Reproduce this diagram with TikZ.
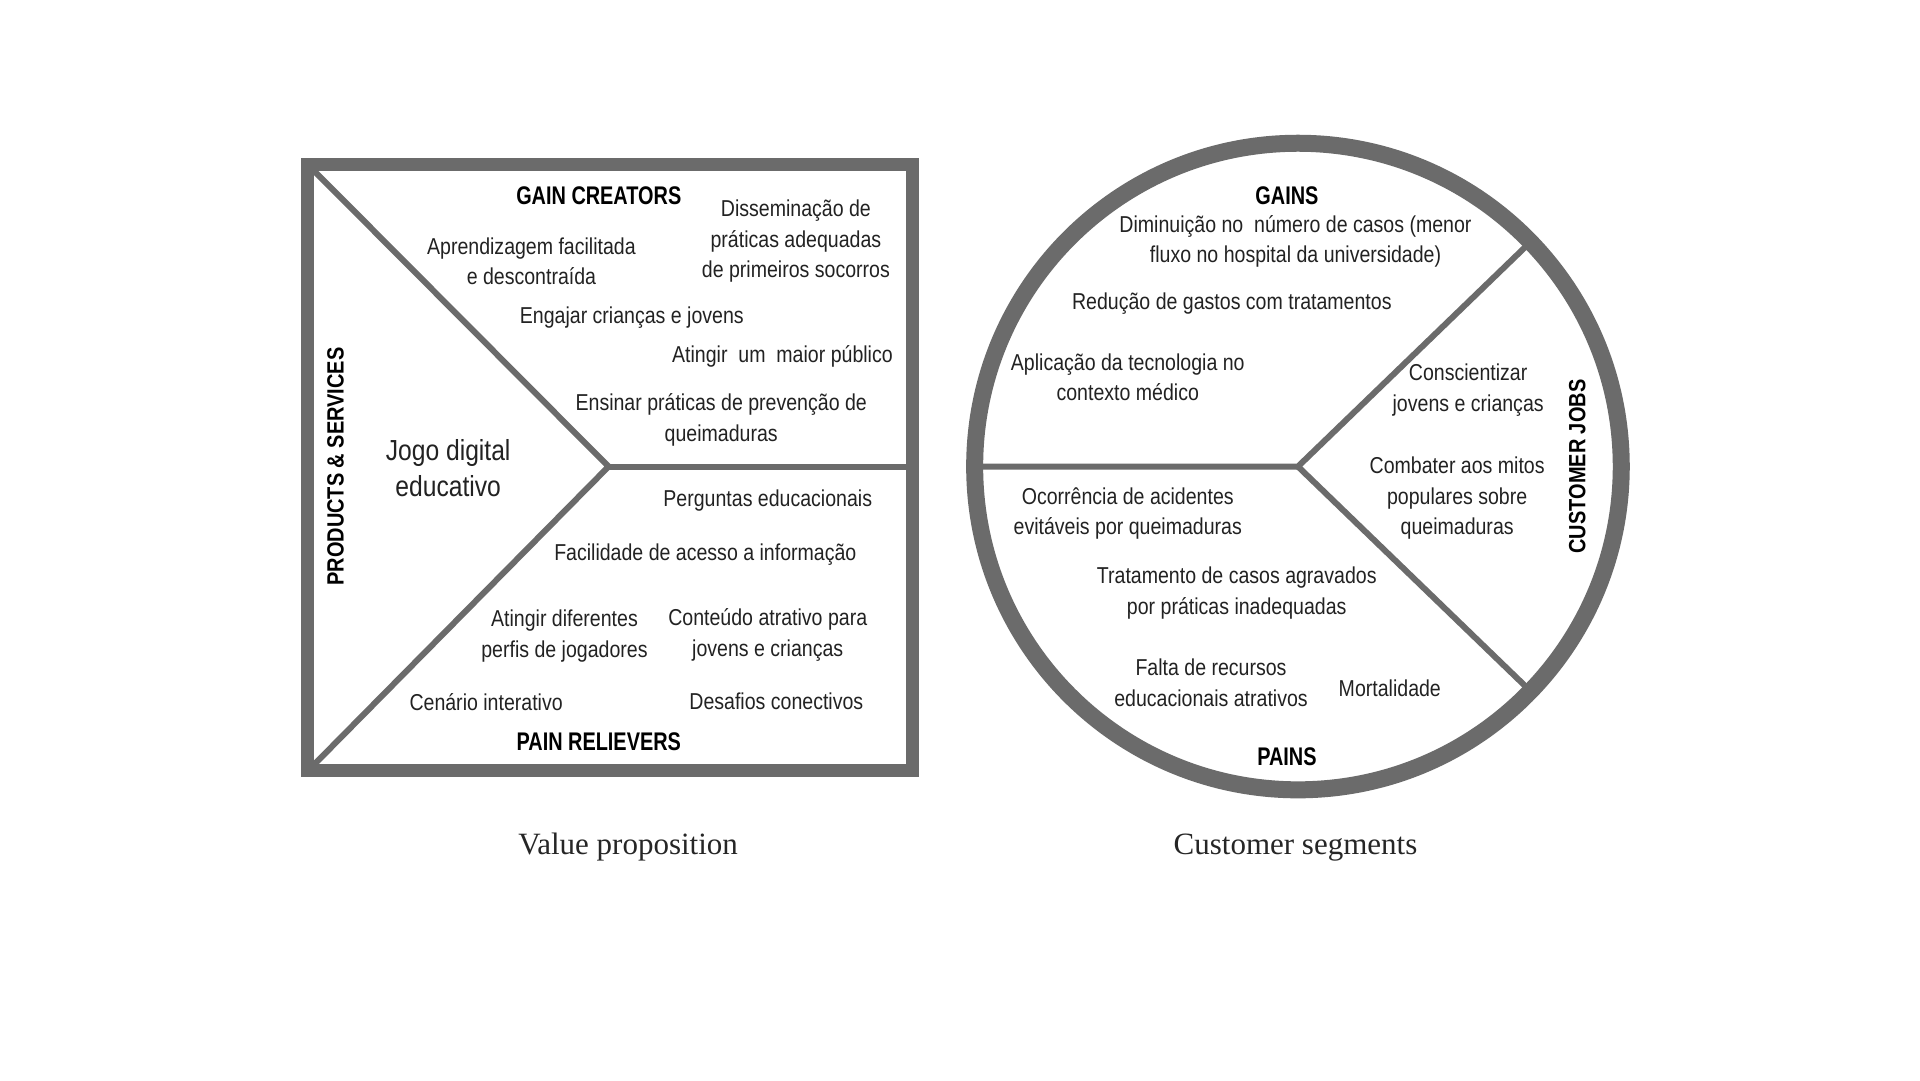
\documentclass[tikz,border=0pt]{standalone}
\usepackage{fontspec}
\setmainfont{Liberation Sans}[FakeStretch=0.85]
\newfontfamily\hdrfont{Liberation Sans}[FakeStretch=0.78]
\newfontfamily\capfont{Liberation Serif}
\definecolor{linegray}{HTML}{6B6B6B}
\definecolor{txtgray}{HTML}{222222}
\begin{document}
\begin{tikzpicture}[x=1.2245pt,y=-1.2245pt,
  txt/.style={font=\fontsize{23}{30.6}\selectfont, text=txtgray, align=center, inner sep=0pt},
  big/.style={font=\fontsize{29}{36}\selectfont, text=txtgray, align=center, inner sep=0pt},
  hdr/.style={font=\hdrfont\fontsize{25.5}{28}\selectfont\bfseries, text=black, inner sep=0pt},
  sidehdr/.style={font=\fontsize{23.5}{28}\selectfont\bfseries, text=black, inner sep=0pt, rotate=90},
  captxt/.style={font=\capfont\fontsize{31}{36}\selectfont, text=black!85, inner sep=0pt},
  divider/.style={draw=linegray, line width=6pt},
  frame/.style={draw=linegray, line width=13pt},
  ring/.style={draw=linegray, line width=17pt}]
\useasboundingbox[fill=white] (0,0) rectangle (1568,882);

% ---------- Value proposition (square) ----------
\coordinate (sqtl) at (251.5,134.5);
\coordinate (sqbl) at (251.5,629.5);
\coordinate (sqbr) at (745.5,629.5);
\coordinate (apex) at (497,381);
\coordinate (sqmr) at (745.5,381);
\draw[divider] (sqtl) -- (apex) -- (sqbl);
\draw[divider] (apex) -- (sqmr);
\draw[frame] (sqtl) rectangle (sqbr);

\node[hdr] (gc) at (489,160) {GAIN CREATORS};
\node[txt] (g1) at (650,197) {Disseminação de\\práticas adequadas\\de primeiros socorros};
\node[txt] (g2) at (434,213.5) {Aprendizagem facilitada\\e descontraída};
\node[txt] (g3) at (516,259) {Engajar crianças e jovens};
\node[txt] (g4) at (639,291) {Atingir\ \ um\ \ maior público};
\node[txt] (g5) at (589,343) {Ensinar práticas de prevenção de\\queimaduras};
\node[sidehdr] (ps) at (274,381) {PRODUCTS \& SERVICES};
\node[big] (jogo) at (366,382) {Jogo digital\\educativo};
\node[txt] (p1) at (627,409) {Perguntas educacionais};
\node[txt] (p2) at (576,453) {Facilidade de acesso a informação};
\node[txt] (p3) at (461,519.5) {Atingir diferentes\\perfis de jogadores};
\node[txt] (p4) at (627,518.5) {Conteúdo atrativo para\\jovens e crianças};
\node[txt] (p5) at (397,573) {Cenário interativo};
\node[txt] (p6) at (634,573) {Desafios conectivos};
\node[hdr] (pr) at (489,606) {PAIN RELIEVERS};
\node[captxt] (vp) at (513,692) {Value proposition};

% ---------- Customer segments (circle) ----------
\coordinate (cc) at (1060,381);
\coordinate (cl) at (796,381);
\coordinate (cur) at (1249.9,197.6);
\coordinate (clr) at (1249.9,564.4);
\draw[divider] (cl) -- (cc) -- (cur);
\draw[divider] (cc) -- (clr);
\draw[ring] (cc) circle[radius=323.3pt];

\node[hdr] (gains) at (1051,160) {GAINS};
\node[txt] (c1) at (1058,197) {Diminuição no\ \ número de casos (menor\\fluxo no hospital da universidade)};
\node[txt] (c2) at (1006,248) {Redução de gastos com tratamentos};
\node[txt] (c3) at (921,308) {Aplicação da tecnologia no\\contexto médico};
\node[txt] (j1) at (1199,318.5) {Conscientizar\\jovens e crianças};
\node[txt] (j2) at (1190,407) {Combater aos mitos\\populares sobre\\queimaduras};
\node[sidehdr] (cj) at (1288,381) {CUSTOMER JOBS};
\node[txt] (d1) at (921,419.5) {Ocorrência de acidentes\\evitáveis por queimaduras};
\node[txt] (d2) at (1010,484.5) {Tratamento de casos agravados\\por práticas inadequadas};
\node[txt] (d3) at (989,557.5) {Falta de recursos\\educacionais atrativos};
\node[txt] (d4) at (1135,562) {Mortalidade};
\node[hdr] (pains) at (1051,618) {PAINS};
\node[captxt] (cs) at (1058,692) {Customer segments};
\end{tikzpicture}
\end{document}
